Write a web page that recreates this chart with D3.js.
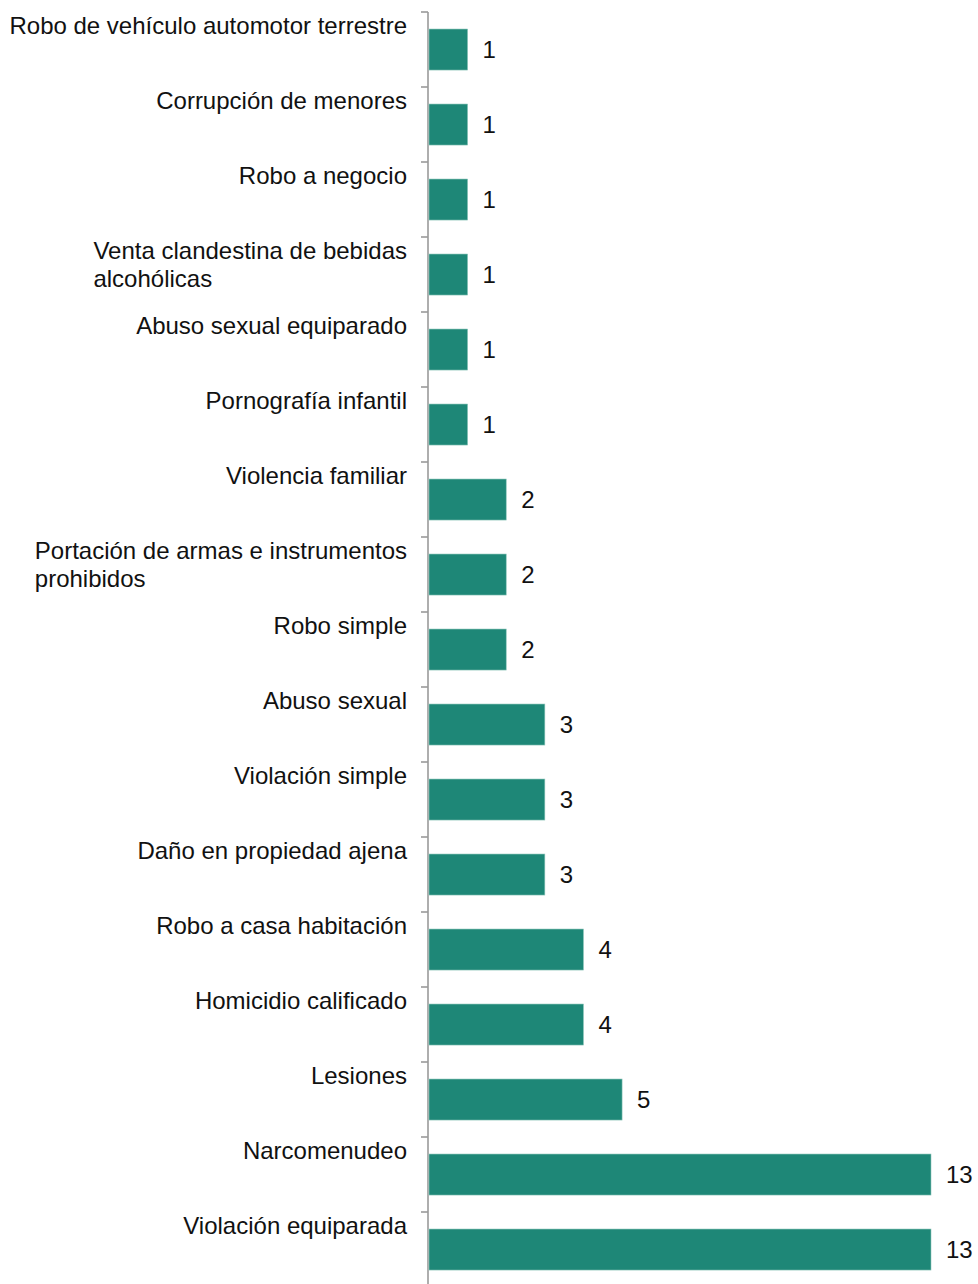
<!DOCTYPE html>
<html>
<head>
<meta charset="utf-8">
<title>Delitos</title>
<script src="https://cdn.jsdelivr.net/npm/d3@7"></script>
<style>
body { margin: 0; background: #fff; }
.label { font: 24px "Liberation Sans", Helvetica, Arial, sans-serif; fill: #111; }
.value { font: 24px "Liberation Sans", Helvetica, Arial, sans-serif; fill: #111; }
</style>
</head>
<body>
<script>
// categories top to bottom, with wrapped lines
var categories = [
  ["Robo de vehículo automotor terrestre"],
  ["Corrupción de menores"],
  ["Robo a negocio"],
  ["Venta clandestina de bebidas", "alcohólicas"],
  ["Abuso sexual equiparado"],
  ["Pornografía infantil"],
  ["Violencia familiar"],
  ["Portación de armas e instrumentos", "prohibidos"],
  ["Robo simple"],
  ["Abuso sexual"],
  ["Violación simple"],
  ["Daño en propiedad ajena"],
  ["Robo a casa habitación"],
  ["Homicidio calificado"],
  ["Lesiones"],
  ["Narcomenudeo"],
  ["Violación equiparada"]
];
var values = [1, 1, 1, 1, 1, 1, 2, 2, 2, 3, 3, 3, 4, 4, 5, 13, 13];

var width = 978, height = 1284;
var keys = categories.map(function(d) { return d.join(" "); });

var svg = d3.select("body").append("svg")
  .attr("width", width)
  .attr("height", height);

var y = d3.scaleBand()
  .domain(keys)
  .range([12, 1287]);

var x = d3.scaleLinear()
  .domain([0, 13])
  .range([429, 931]);

var bw = y.bandwidth();

// axis line with ticks at band edges
var axisX = 428;
svg.append("line")
  .attr("x1", axisX).attr("x2", axisX)
  .attr("y1", y.range()[0]).attr("y2", height)
  .attr("stroke", "#9a9a9a").attr("stroke-width", 1.6);

svg.selectAll(".tick")
  .data(keys)
  .enter().append("line")
    .attr("class", "tick")
    .attr("x1", 421).attr("x2", axisX)
    .attr("y1", function(d) { return y(d); })
    .attr("y2", function(d) { return y(d); })
    .attr("stroke", "#9a9a9a").attr("stroke-width", 1.6);

svg.selectAll(".bar")
  .data(values)
  .enter().append("rect")
    .attr("class", "bar")
    .attr("x", x(0))
    .attr("y", function(d, i) { return y(keys[i]) + bw * 0.227; })
    .attr("width", function(d) { return x(d) - x(0); })
    .attr("height", bw * 0.547)
    .attr("fill", "#1e8777")
    .attr("stroke", "#8fc7bb")
    .attr("stroke-width", 0.6);

svg.selectAll(".value")
  .data(values)
  .enter().append("text")
    .attr("class", "value")
    .attr("x", function(d) { return x(d) + 15; })
    .attr("y", function(d, i) { return y(keys[i]) + bw * 0.5 + 8; })
    .text(function(d) { return d; });

// category labels: block right-aligned, lines left-aligned
var labelRight = 407;
var g = svg.selectAll(".label")
  .data(categories)
  .enter().append("text")
    .attr("class", "label")
    .attr("y", function(d, i) { return y(keys[i]) + 22; });

g.each(function(lines) {
  var t = d3.select(this);
  lines.forEach(function(line, j) {
    t.append("tspan").attr("y", +t.attr("y") + j * 28).text(line);
  });
  var maxW = 0;
  t.selectAll("tspan").each(function() {
    maxW = Math.max(maxW, this.getComputedTextLength());
  });
  t.selectAll("tspan").attr("x", labelRight - maxW);
});
</script>
</body>
</html>
